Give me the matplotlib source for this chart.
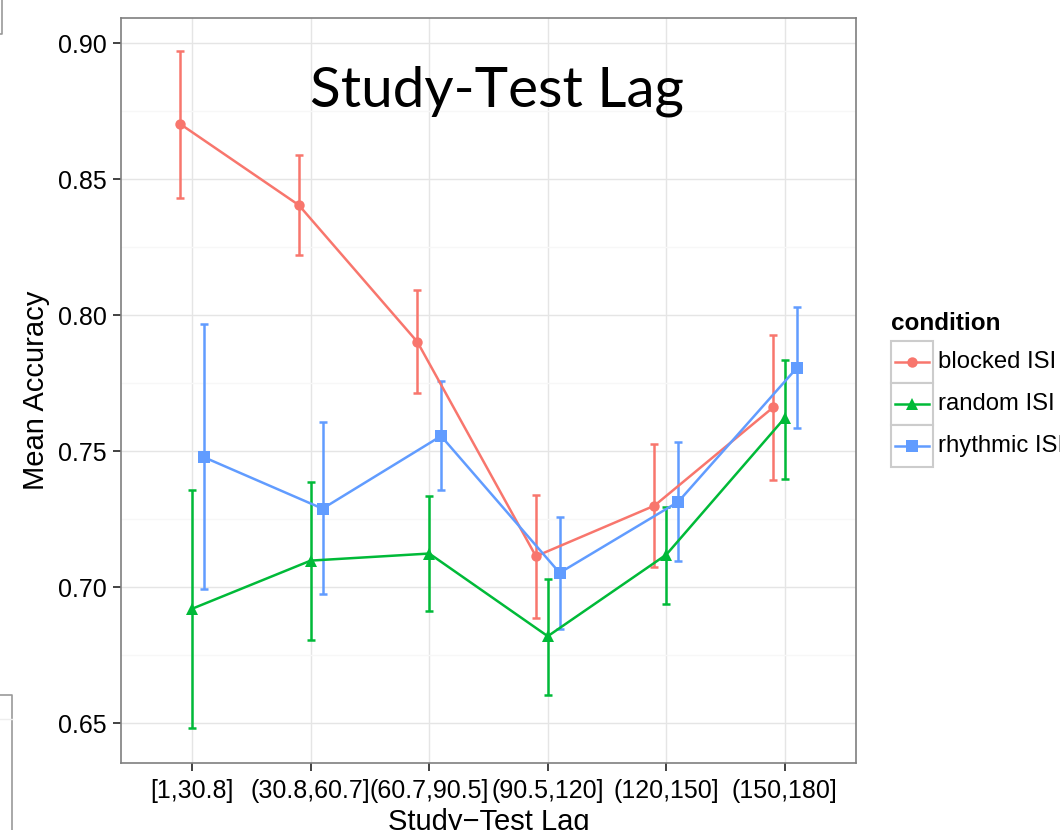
import numpy as np
import matplotlib
matplotlib.use("Agg")
import matplotlib.pyplot as plt
from matplotlib.lines import Line2D
from matplotlib.patches import Rectangle

# data
lag_bins = ["[1,30.8]", "(30.8,60.7]", "(60.7,90.5]", "(90.5,120]", "(120,150]", "(150,180]"]
conditions = ["blocked ISI", "random ISI", "rhythmic ISI"]

blocked = [0.8703, 0.8405, 0.7902, 0.7114, 0.7300, 0.7661]
blocked_lo = [0.8432, 0.8222, 0.7714, 0.6887, 0.7073, 0.7393]
blocked_hi = [0.8971, 0.8589, 0.8092, 0.7338, 0.7528, 0.7929]

random_isi = [0.6921, 0.7098, 0.7124, 0.6820, 0.7120, 0.7623]
random_lo = [0.6481, 0.6806, 0.6912, 0.6605, 0.6939, 0.7399]
random_hi = [0.7356, 0.7388, 0.7334, 0.7031, 0.7295, 0.7837]

rhythmic = [0.7478, 0.7289, 0.7556, 0.7053, 0.7314, 0.7806]
rhythmic_lo = [0.6994, 0.6975, 0.7358, 0.6848, 0.7095, 0.7587]
rhythmic_hi = [0.7967, 0.7606, 0.7757, 0.7260, 0.7533, 0.8031]

y_ticks = [0.65, 0.70, 0.75, 0.80, 0.85, 0.90]

# styles
colours = ["#F8766D", "#00BA38", "#619CFF"]
markers = ["o", "^", "s"]
msizes = [7.5, 9, 8]
dodge = [-0.1, 0.0, 0.1]
FONT = ["Liberation Sans", "DejaVu Sans"]

plt.rcParams['font.family'] = FONT

W, H = 1060, 830
fig = plt.figure(figsize=(W / 100, H / 100), dpi=100)
ax = fig.add_axes([121 / W, 1 - 762.7 / H, (856 - 121) / W, (762.7 - 17.7) / H])

means = [blocked, random_isi, rhythmic]
lows = [blocked_lo, random_lo, rhythmic_lo]
highs = [blocked_hi, random_hi, rhythmic_hi]

x = np.arange(1, len(lag_bins) + 1)
for k in range(3):
	xs = x + dodge[k]
	m = np.asarray(means[k])
	err = [m - np.asarray(lows[k]), np.asarray(highs[k]) - m]
	ax.errorbar(xs, m, yerr=err, fmt="none", ecolor=colours[k], elinewidth=1.8,
				capsize=3.2, capthick=1.8, zorder=3)
	ax.plot(xs, m, color=colours[k], lw=1.8, zorder=4)
	ax.plot(xs, m, linestyle="none", marker=markers[k], markersize=msizes[k],
			color=colours[k], markeredgewidth=0, zorder=5)

#axes like ggplot theme_bw
ax.set_xticks(x)
ax.set_xticklabels(lag_bins)
ax.set_yticks(y_ticks)
ax.set_yticklabels(["%.2f" % v for v in y_ticks])
ax.set_yticks([v + 0.025 for v in y_ticks[:-1]], minor=True)
ax.set_xlim(0.4, len(lag_bins) + 0.6)
ax.set_ylim(0.6355, 0.9094)
ax.grid(which="major", color="#E5E5E5", lw=1.0, zorder=0)
ax.grid(which="minor", axis="y", color="#F7F7F7", lw=1.0, zorder=0)
ax.set_axisbelow(True)
for s in ax.spines.values():
	s.set_color("#7F7F7F")
	s.set_linewidth(1.2)
ax.tick_params(which="major", length=6, width=1.3, color="#333333", labelsize=18,
			   labelcolor="black")
ax.tick_params(axis="x", which="major", pad=6)
ax.tick_params(axis="y", which="major", pad=4)
ax.tick_params(which="minor", length=0)

ax.set_xlabel("Study\u2212Test Lag", fontsize=21, labelpad=3)
ax.set_ylabel("Mean Accuracy", fontsize=21, labelpad=6)

# big title inside the panel
ax.text((496.5 - 121) / 735, (762.7 - 106.7) / 745, "Study-Test Lag", transform=ax.transAxes,
		ha="center", va="baseline", fontsize=40.8, family=["Lato", "DejaVu Sans"],
		color="black")

# legend, drawn by hand (boxed keys)
fig.text(891 / W, 1 - 323 / H, "condition", fontsize=17.5, fontweight="bold",
		 ha="left", va="center")
for k in range(3):
	top = 341 + 42 * k
	fig.add_artist(Rectangle((891 / W, 1 - (top + 42) / H), 42 / W, 42 / H,
							 transform=fig.transFigure, facecolor="white",
							 edgecolor="#CCCCCC", lw=1.5))
	cy = 1 - (top + 21) / H
	fig.add_artist(Line2D([895 / W, 929 / W], [cy, cy], transform=fig.transFigure,
						  color=colours[k], lw=1.8))
	fig.add_artist(Line2D([912 / W], [cy], transform=fig.transFigure, marker=markers[k],
						  markersize=msizes[k], color=colours[k], markeredgewidth=0))
	fig.text(938 / W, cy, conditions[k], fontsize=17.2, ha="left", va="center")

# slide edges left in the screenshot
fig.add_artist(Line2D([2 / W, 2 / W, 0], [1, 1 - 34 / H, 1 - 34 / H],
					  transform=fig.transFigure, color="#999999", lw=1.2))
fig.add_artist(Line2D([0, 12 / W, 12 / W], [1 - 695 / H, 1 - 695 / H, 0],
					  transform=fig.transFigure, color="#999999", lw=1.2))
fig.add_artist(Line2D([0, 12 / W], [1 - 719 / H, 1 - 719 / H],
					  transform=fig.transFigure, color="#EEEEEE", lw=1.0))

fig.savefig("out.png", dpi=100)
